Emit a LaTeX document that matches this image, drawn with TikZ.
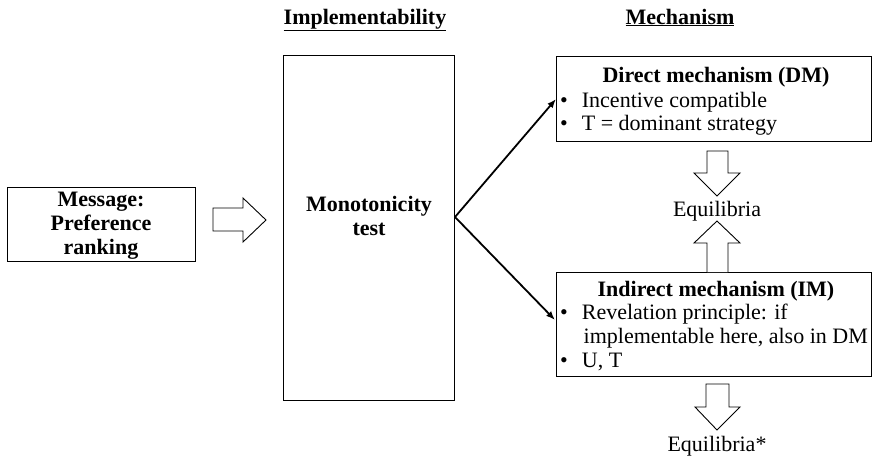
\documentclass[tikz,border=0pt]{standalone}
\usepackage{fontspec}
\setmainfont{Liberation Serif}
\usetikzlibrary{arrows.meta}
\begin{document}
\begin{tikzpicture}[x=1pt,y=-1pt,
  font=\fontsize{22}{24}\selectfont,
  frame/.style={draw, line width=1pt, inner sep=0pt},
  txt/.style={anchor=base, inner sep=0pt},
  btxt/.style={txt, font=\fontsize{22}{24}\selectfont\bfseries},
  item/.style={anchor=base west, inner sep=0pt},
  hollow/.style={draw, line width=0.9pt, fill=white, line join=miter},
  link/.style={line width=1.8pt, -{Latex[length=9pt,width=7pt]}}
]
\useasboundingbox (0,0) rectangle (873,459);

% column headers
\node[btxt] (hImpl) at (365,24) {\underline{Implementability}};
\node[btxt] (hMech) at (680,24) {\underline{Mechanism}};

% message box
\node[frame, minimum width=188pt, minimum height=74pt] (msg) at (101,224) {};
\node[btxt] (msg1) at (101,206) {Message:};
\node[btxt] (msg2) at (101,230) {Preference};
\node[btxt] (msg3) at (101,254) {ranking};

% block arrow into the test
\draw[hollow] (213,208) -- (243,208) -- (243,198) -- (266,220) -- (243,242) -- (243,231) -- (213,231) -- cycle;

% monotonicity test
\node[frame, minimum width=171pt, minimum height=345pt] (mono) at (369,227.5) {};
\node[btxt] (mono1) at (369,211) {Monotonicity};
\node[btxt] (mono2) at (369,235) {test};

% direct mechanism
\node[frame, minimum width=315pt, minimum height=85pt] (dm) at (713.5,98.5) {};
\node[btxt] (dmT) at (716,82) {Direct mechanism (DM)};
\node[item] (dm1) at (560,107) {\textbullet\hspace{14pt}Incentive compatible};
\node[item] (dm2) at (560,130) {\textbullet\hspace{14pt}T = dominant strategy};

% indirect mechanism
\node[frame, minimum width=315pt, minimum height=104pt] (im) at (713.5,324) {};
\node[btxt] (imT) at (716,296) {Indirect mechanism (IM)};
\node[item] (im1) at (560,319) {\textbullet\hspace{14pt}Revelation principle: if};
\node[item] (im2) at (583.5,343) {implementable here, also in DM};
\node[item] (im3) at (560,367) {\textbullet\hspace{14pt}U, T};

% equilibria between the mechanisms
\draw[hollow] (707,151) -- (728,151) -- (728,173) -- (740,173) -- (717,196) -- (694,173) -- (707,173) -- cycle;
\node[txt] (eq) at (717,216) {Equilibria};
\draw[hollow] (707,272) -- (707,243) -- (694,243) -- (717,221) -- (740,243) -- (728,243) -- (728,272);

% equilibria of the indirect mechanism
\draw[hollow] (706,384) -- (729,384) -- (729,407) -- (740,407) -- (717,430) -- (695,407) -- (706,407) -- cycle;
\node[txt] (eqs) at (717,451) {Equilibria*};

% links from the test to both mechanisms
\coordinate (fork) at (455,217);
\coordinate (dmIn) at (556,99);
\coordinate (imIn) at (555,320);
\draw[link] (fork) -- (dmIn);
\draw[link] (fork) -- (imIn);
\end{tikzpicture}
\end{document}
